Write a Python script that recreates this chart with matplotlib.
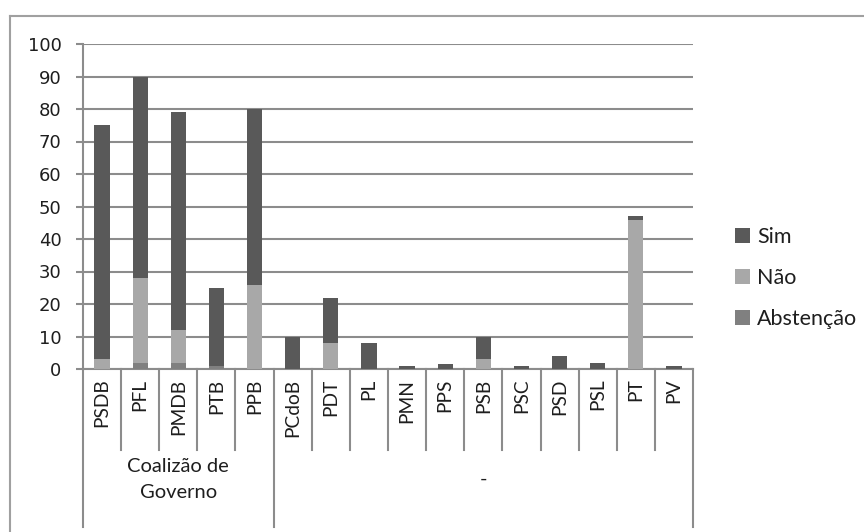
import matplotlib
matplotlib.use("Agg")
import matplotlib.pyplot as plt
import numpy as np
from matplotlib.transforms import blended_transform_factory
from matplotlib.lines import Line2D

# Votes per party, split by position
partidos = ["PSDB", "PFL", "PMDB", "PTB", "PPB", "PCdoB", "PDT", "PL", "PMN",
            "PPS", "PSB", "PSC", "PSD", "PSL", "PT", "PV"]
abstencao = [0, 2, 2, 1, 0, 0, 0, 0, 0, 0, 0, 0, 0, 0, 0, 0]
nao = [3, 26, 10, 0, 26, 0, 8, 0, 0, 0, 3, 0, 0, 0, 46, 0]
sim = [72, 62, 67, 24, 54, 10, 14, 8, 1, 1.5, 7, 1, 4, 2, 1, 1]
grupos = ["Coalizão de\nGoverno", "-"]
tamanho_grupos = [5, 11]
y_ticks = list(range(0, 101, 10))

cor_sim = "#595959"
cor_nao = "#a8a8a8"
cor_abs = "#808080"
cor_linha = "#8c8c8c"
cor_texto = "#1e1e1e"

fig = plt.figure(figsize=(8.64, 5.32), dpi=100)
ax = fig.add_axes([83 / 864, 1 - 369 / 532, (693 - 83) / 864, 325 / 532])

x = np.arange(len(partidos))
w = 0.4
abs_arr = np.array(abstencao, dtype=float)
nao_arr = np.array(nao, dtype=float)
sim_arr = np.array(sim, dtype=float)

ax.bar(x, abs_arr, w, color=cor_abs, label="Abstenção", zorder=3)
ax.bar(x, nao_arr, w, bottom=abs_arr, color=cor_nao, label="Não", zorder=3)
ax.bar(x, sim_arr, w, bottom=abs_arr + nao_arr, color=cor_sim, label="Sim", zorder=3)

ax.set_xlim(-0.5, len(partidos) - 0.5)
ax.set_ylim(0, 100)
ax.set_yticks(y_ticks)
ax.set_yticklabels([str(v) for v in y_ticks], fontfamily="DejaVu Sans",
                   fontsize=13, color=cor_texto)
ax.tick_params(axis="y", length=5, width=1.5, color=cor_linha, pad=10.5)
ax.yaxis.grid(True, color=cor_linha, linewidth=1.5, zorder=0)
ax.set_axisbelow(True)

ax.set_xticks(x)
ax.set_xticklabels(partidos, rotation=90, fontfamily="Lato", fontsize=13.8,
                   color=cor_texto, va="top")
ax.tick_params(axis="x", length=0, pad=7)

for s in ["top", "right"]:
    ax.spines[s].set_visible(False)
for s in ["left", "bottom"]:
    ax.spines[s].set_color(cor_linha)
    ax.spines[s].set_linewidth(1.5)

# Category separators below the axis
trans = blended_transform_factory(ax.transData, ax.transAxes)
limites = np.cumsum([0] + tamanho_grupos) - 0.5
for b in np.arange(-0.5, len(partidos)):
    low = -0.486 if np.any(np.isclose(b, limites)) else -0.249
    ax.add_line(Line2D([b, b], [0, low], transform=trans, color=cor_linha,
                       linewidth=1.5, clip_on=False))

# Group labels
inicio = 0
for nome, n in zip(grupos, tamanho_grupos):
    centro = inicio + n / 2 - 0.5
    ax.text(centro, -0.34, nome, transform=trans, ha="center", va="center",
            fontfamily="Lato", fontsize=14.5, color=cor_texto, linespacing=1.6)
    inicio += n

# Legend
handles, labels = ax.get_legend_handles_labels()
fig.legend(handles[::-1], labels[::-1], loc="upper left",
           bbox_to_anchor=(716 / 864, 1 - 208 / 532), frameon=False,
           prop={"family": "Lato", "size": 15.5}, labelcolor=cor_texto,
           handlelength=0.7, handleheight=0.7, handletextpad=0.3,
           labelspacing=0.97)

# Outer frame
fig.add_artist(Line2D([10 / 864, 10 / 864], [0, 1 - 16 / 532],
                      transform=fig.transFigure, color="#a0a0a0", linewidth=1.5))
fig.add_artist(Line2D([10 / 864, 1], [1 - 16 / 532, 1 - 16 / 532],
                      transform=fig.transFigure, color="#a0a0a0", linewidth=1.5))

fig.savefig("out.png", dpi=100)
